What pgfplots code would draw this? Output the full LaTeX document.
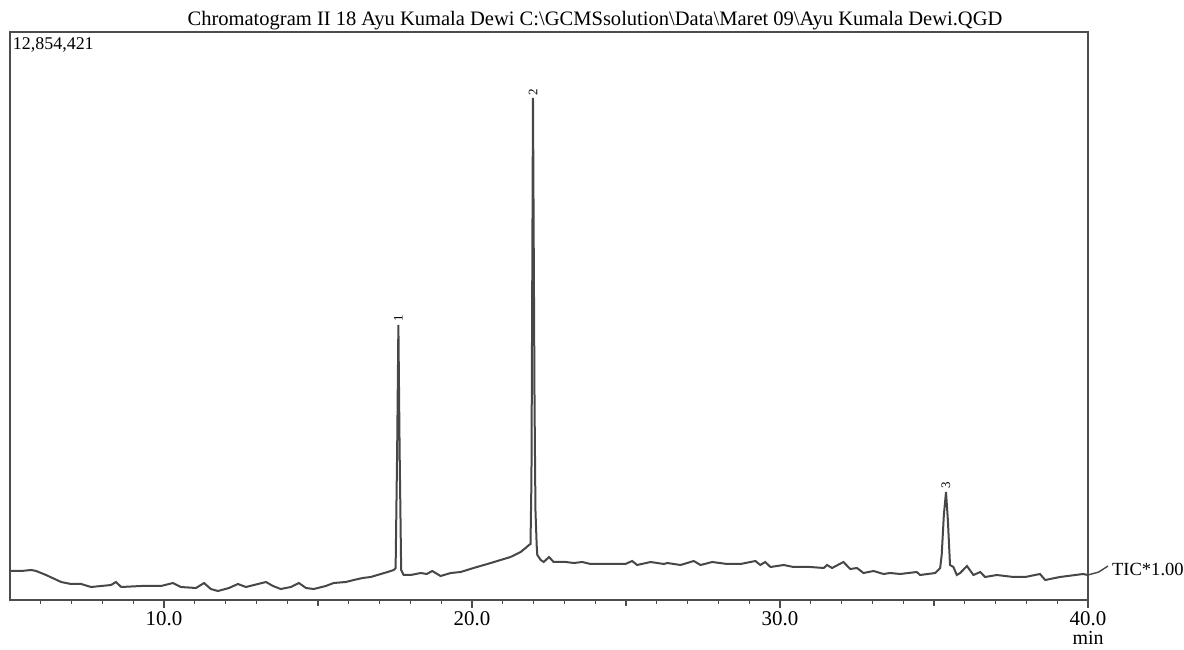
\documentclass[border=0pt]{standalone}
\usepackage{pgfplots}
\pgfplotsset{compat=1.18}
\usepackage{fontspec}
\setmainfont{Liberation Serif}

\definecolor{trace}{gray}{0.28}
\definecolor{frame}{gray}{0.30}

\begin{document}
\begin{tikzpicture}
% page: 592bp x 325bp, axis box 539bp x 284bp with its lower left corner at (0,0)
\path[use as bounding box] (-5bp,-25bp) rectangle (587bp,300bp);
\begin{axis}[
    scale only axis,
    width=539bp, height=284bp,
    xmin=5, xmax=40,
    ymin=0, ymax=568,
    clip=false,
    axis line style={draw=frame, line width=0.7bp},
    xtick={10,20,30,40},
    minor xtick={6,7,8,9,11,12,13,14,16,17,18,19,21,22,23,24,26,27,28,29,31,32,33,34,36,37,38,39},
    ytick=\empty,
    xtick pos=lower,
    tick align=outside,
    major tick length=4bp,
    minor tick length=2bp,
    every tick/.style={draw=frame, line width=0.6bp},
    extra x ticks={15,25,35},
    extra x tick labels={},
    extra x tick style={major tick length=3bp},
    xticklabel style={font=\fontsize{10.5}{12}\selectfont, text=black, inner sep=0pt, yshift=-1.5bp},
    /pgf/number format/assume math mode=true,
    /pgf/number format/.cd, fixed, fixed zerofill, precision=1,
]

% TIC trace (x in min, y in arbitrary units)
\addplot[line width=1bp, color=trace] coordinates {
    (5.00,29) (5.36,29) (5.69,30) (5.85,29) (6.17,25) (6.66,18) (6.98,16)
    (7.31,16) (7.63,13) (7.96,14) (8.28,15) (8.44,18) (8.61,13) (9.25,14)
    (9.90,14) (10.29,17) (10.55,13) (11.04,12) (11.30,17) (11.52,11) (11.75,9)
    (12.11,12) (12.40,16) (12.66,13) (13.31,18) (13.54,14) (13.79,11) (14.12,13)
    (14.38,17) (14.61,12) (14.86,11) (15.25,14) (15.51,17) (15.90,18) (16.16,20)
    (16.45,22) (16.71,23) (17.04,26) (17.26,28) (17.46,30) (17.52,32)
    (17.57,150) (17.61,275) (17.65,150) (17.70,30)
    (17.78,25) (18.01,25) (18.34,27) (18.53,26) (18.71,29) (18.98,24) (19.31,27)
    (19.63,28) (20.05,32) (20.50,36) (20.93,40) (21.25,43) (21.58,48) (21.74,52)
    (21.85,55) (21.90,56)
    (21.93,120) (21.98,502) (22.03,200) (22.06,90) (22.10,55)
    (22.12,45) (22.23,40) (22.33,38) (22.50,43) (22.65,38) (22.88,38) (23.04,38)
    (23.31,37) (23.58,38) (23.85,36) (24.17,36) (24.60,36) (24.98,36) (25.20,39)
    (25.36,35) (25.80,38) (26.23,36) (26.34,37) (26.77,35) (27.20,39) (27.42,35)
    (27.80,38) (28.28,36) (28.72,36) (29.20,39) (29.36,35) (29.52,38) (29.69,33)
    (30.12,35) (30.44,33) (30.66,33) (30.98,33) (31.42,32) (31.53,35) (31.69,32)
    (32.06,38) (32.28,31) (32.50,32) (32.71,27) (33.04,29) (33.36,26) (33.58,27)
    (33.90,26) (34.44,28) (34.55,25) (35.04,27) (35.20,32)
    (35.25,45) (35.32,85) (35.39,108) (35.45,80) (35.52,35)
    (35.63,33) (35.74,25) (35.85,27) (36.07,34) (36.28,25) (36.50,28) (36.66,23)
    (37.04,25) (37.58,23) (37.96,23) (38.44,26) (38.61,20) (39.09,23) (39.84,26)
    (40.00,25)
};

% peak numbers
\node[rotate=90, anchor=west, inner sep=0pt, font=\fontsize{6.5}{7}\selectfont]
    at (axis cs:17.61,278) {1};
\node[rotate=90, anchor=west, inner sep=0pt, font=\fontsize{6.5}{7}\selectfont]
    at (axis cs:21.98,504) {2};
\node[rotate=90, anchor=west, inner sep=0pt, font=\fontsize{6.5}{7}\selectfont]
    at (axis cs:35.39,111) {3};

% labels around the frame
\node[anchor=base, font=\fontsize{10.3}{12}\selectfont]
    at ([xshift=23bp, yshift=3bp]rel axis cs:0.5,1)
    {Chromatogram II 18 Ayu Kumala Dewi C:\textbackslash GCMSsolution\textbackslash Data\textbackslash Maret 09\textbackslash Ayu Kumala Dewi.QGD};
\node[anchor=base west, inner sep=0pt, font=\fontsize{9}{11}\selectfont]
    at ([xshift=1.3bp, yshift=-9bp]rel axis cs:0,1) {12,854,421};
\draw[line width=0.7bp, color=trace] (axis cs:40,25) -- (axis cs:40.35,28) -- (axis cs:40.65,34);
\node[anchor=base west, inner sep=0pt, font=\fontsize{9.3}{11}\selectfont]
    at (axis cs:40.77,25) {TIC*1.00};
\node[anchor=base, inner sep=0pt, font=\fontsize{10}{12}\selectfont]
    at ([yshift=-22bp]axis cs:40,0) {min};
\end{axis}
\end{tikzpicture}
\end{document}
